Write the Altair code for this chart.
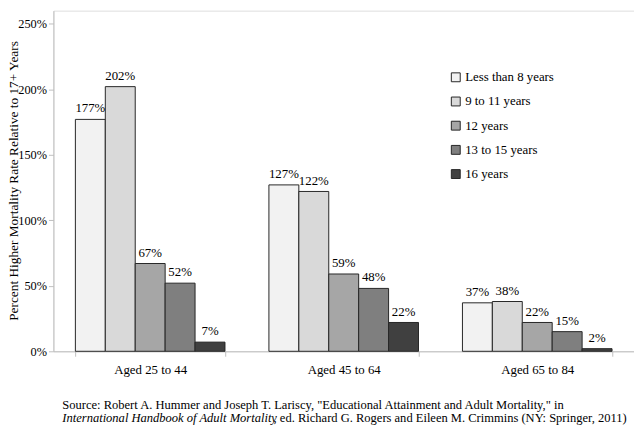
import altair as alt
import pandas as pd

ages = ["Aged 25 to 44", "Aged 45 to 64", "Aged 65 to 84"]
groups = ["Less than 8 years", "9 to 11 years", "12 years", "13 to 15 years", "16 years"]
values = {
    "Less than 8 years": [177, 127, 37],
    "9 to 11 years": [202, 122, 38],
    "12 years": [67, 59, 22],
    "13 to 15 years": [52, 48, 15],
    "16 years": [7, 22, 2],
}
colors = ["#f2f2f2", "#d9d9d9", "#a6a6a6", "#7f7f7f", "#404040"]
y_ticks = [0, 50, 100, 150, 200, 250]
y_title = "Percent Higher Mortality Rate Relative to 17+ Years"
source_line1 = 'Source: Robert A. Hummer and Joseph T. Lariscy, "Educational Attainment and Adult Mortality," in'
source_line2_italic = "International Handbook of Adult Mortality"
source_line2_rest = ", ed. Richard G. Rogers and Eileen M. Crimmins (NY: Springer, 2011)"

rows = []
for g in groups:
    for a, v in zip(ages, values[g]):
        rows.append({"age": a, "edu": g, "value": v})
df = pd.DataFrame(rows)

FONT = "Liberation Serif"
W, H = 588, 345
SRC_SIZE = 12.7

x_enc = alt.X("age:N", sort=ages, title=None,
              scale=alt.Scale(paddingInner=0.227, paddingOuter=0.1135),
              axis=alt.Axis(labelAngle=0, tickBand="extent", tickSize=5,
                            domainColor="#bfbfbf", tickColor="#bfbfbf",
                            labelFont=FONT, labelFontSize=13, labelColor="#000000",
                            labelPadding=7))
xo_enc = alt.XOffset("edu:N", sort=groups, scale=alt.Scale(paddingInner=0, paddingOuter=0))
y_enc = alt.Y("value:Q", scale=alt.Scale(domain=[0, 250]), title=y_title,
              axis=alt.Axis(values=y_ticks, labelExpr="datum.value + '%'", grid=False,
                            domainColor="#bfbfbf", tickColor="#bfbfbf", tickSize=5,
                            labelFont=FONT, labelFontSize=12.5, labelColor="#000000",
                            labelPadding=2, titleFont=FONT, titleFontSize=13.5,
                            titleFontWeight="normal", titleColor="#000000",
                            titleBaseline="alphabetic", titleX=-36, titleY=172))

base = alt.Chart(df)
bars = base.mark_bar(stroke="#262626", strokeWidth=1).encode(
    x=x_enc, xOffset=xo_enc, y=y_enc,
    color=alt.Color("edu:N", sort=groups,
                    scale=alt.Scale(domain=groups, range=colors),
                    legend=alt.Legend(title=None, orient="none", legendX=401, legendY=61,
                                      symbolType="square", symbolSize=81,
                                      symbolStrokeColor="#262626", symbolStrokeWidth=1,
                                      labelFont=FONT, labelFontSize=13, labelColor="#000000",
                                      labelOffset=3, rowPadding=10.5, padding=0)),
)
labels = base.mark_text(font=FONT, fontSize=13, color="#000000", baseline="middle", dy=-11).encode(
    x=alt.X("age:N", sort=ages), xOffset=alt.XOffset("edu:N", sort=groups),
    y="value:Q", text=alt.Text("label:N"),
).transform_calculate(label="datum.value + '%'")

src = pd.DataFrame({"l1": [source_line1], "l2i": [source_line2_italic], "l2r": [source_line2_rest]})
s1 = alt.Chart(src).mark_text(font=FONT, fontSize=SRC_SIZE, align="left", baseline="middle", color="#000000").encode(
    x=alt.value(9), y=alt.value(399), text="l1:N")
s2 = alt.Chart(src).mark_text(font=FONT, fontSize=SRC_SIZE, align="left", baseline="middle", fontStyle="italic", color="#000000").encode(
    x=alt.value(9), y=alt.value(413), text="l2i:N")
s3 = alt.Chart(src).mark_text(font=FONT, fontSize=SRC_SIZE, align="left", baseline="middle", color="#000000").encode(
    x=alt.value(223), y=alt.value(413), text="l2r:N")

chart = alt.layer(bars, labels, s1, s2, s3).properties(
    width=W, height=H,
    autosize=alt.AutoSizeParams(type="none"),
    padding={"left": 46, "top": 0, "right": 0, "bottom": 75},
    background="white",
).configure_view(stroke=None).configure(font=FONT)

chart.save("out.html", embed_options={"renderer": "svg", "actions": False})
